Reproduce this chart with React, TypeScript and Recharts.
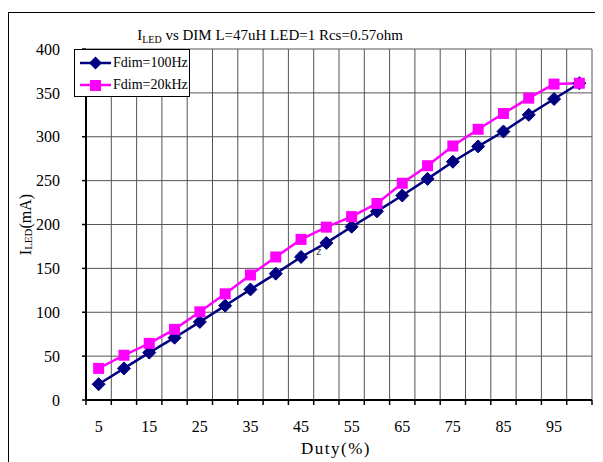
import { LineChart, Line, XAxis, YAxis, CartesianGrid } from "recharts"

const DUTY = [5, 10, 15, 20, 25, 30, 35, 40, 45, 50, 55, 60, 65, 70, 75, 80, 85, 90, 95, 100]
const FDIM_100HZ = [18, 36, 54, 71, 89, 107.5, 126, 144, 163, 179, 197.5, 215, 233, 252, 271.5, 289, 306, 325, 343, 361]
const FDIM_20KHZ = [36, 51, 64.5, 80.5, 100.5, 121, 142.5, 163, 183, 197, 209, 224, 247, 267, 289.5, 308.5, 326.5, 344, 360, 361]

const X_LABEL_TICKS = [5, 15, 25, 35, 45, 55, 65, 75, 85, 95]
const X_GRID_TICKS = [2.5, 7.5, 12.5, 17.5, 22.5, 27.5, 32.5, 37.5, 42.5, 47.5, 52.5, 57.5, 62.5, 67.5, 72.5, 77.5, 82.5, 87.5, 92.5, 97.5, 102.5]
const Y_TICKS = [0, 50, 100, 150, 200, 250, 300, 350, 400]

const NAVY = "#000080"
const MAGENTA = "#ff00ff"
const FONT = "'Liberation Serif', 'DejaVu Serif', serif"

const data = DUTY.map((d, i) => ({
  duty: d,
  f100: FDIM_100HZ[i],
  f20k: FDIM_20KHZ[i],
}))

const Diamond = ({ cx, cy }: { cx?: number; cy?: number }) => {
  if (cx == null || cy == null) return null
  const r = 6.5
  return (
    <polygon
      points={`${cx},${cy - r} ${cx + r},${cy} ${cx},${cy + r} ${cx - r},${cy}`}
      fill={NAVY}
      stroke={NAVY}
    />
  )
}

const Square = ({ cx, cy }: { cx?: number; cy?: number }) => {
  if (cx == null || cy == null) return null
  const s = 11
  return <rect x={cx - s / 2} y={cy - s / 2} width={s} height={s} fill={MAGENTA} />
}

// grid axis only carries tick marks, no text
const NoLabel = () => <g />

const LEGEND_ITEMS = [
  { name: "Fdim=100Hz", color: NAVY, square: false },
  { name: "Fdim=20kHz", color: MAGENTA, square: true },
]

const LegendBox = () => (
  <div
    style={{
      position: "absolute",
      left: 66,
      top: 41,
      width: 116,
      height: 48,
      border: "1.5px solid #000",
      boxSizing: "border-box",
      background: "#fff",
      fontFamily: FONT,
      fontSize: 14,
      color: "#000",
      paddingTop: 2,
    }}
  >
    {LEGEND_ITEMS.map((it) => (
      <div key={it.name} style={{ display: "flex", alignItems: "center", height: 22 }}>
        <svg width={38} height={16} style={{ flex: "none" }}>
          <line x1={5} y1={8} x2={36} y2={8} stroke={it.color} strokeWidth={2.5} />
          {it.square ? (
            <rect x={15} y={3} width={11} height={11} fill={it.color} />
          ) : (
            <polygon points="20.5,1.5 27,8 20.5,14.5 14,8" fill={it.color} />
          )}
        </svg>
        <span style={{ lineHeight: "16px", whiteSpace: "nowrap" }}>{it.name}</span>
      </div>
    ))}
  </div>
)

export default function App() {
  return (
    <div style={{ position: "relative", width: 595, height: 454, overflow: "hidden", background: "#fff" }}>
      <div
        style={{
          position: "absolute",
          left: 0,
          top: 4,
          width: 700,
          height: 600,
          border: "1px solid #000",
          boxSizing: "border-box",
        }}
      />
      <div
        style={{
          position: "absolute",
          left: 0,
          top: 19,
          width: 524,
          textAlign: "center",
          fontFamily: FONT,
          fontSize: 15,
          color: "#000",
          whiteSpace: "pre",
        }}
      >
        I<span style={{ fontSize: 10, verticalAlign: -3 }}>LED</span> vs DIM L=47uH LED=1 Rcs=0.57ohm
      </div>
      <LineChart
        width={595}
        height={454}
        data={data}
        margin={{ top: 41, right: 11, left: 0, bottom: 0 }}
        style={{ position: "absolute", left: 0, top: 0 }}
      >
        <CartesianGrid xAxisId="grid" stroke="#555" strokeWidth={1} />
        <XAxis
          xAxisId="grid"
          dataKey="duty"
          type="number"
          domain={[2.5, 102.5]}
          ticks={X_GRID_TICKS}
          height={5}
          axisLine={{ stroke: "#000", strokeWidth: 2 }}
          tickLine={{ stroke: "#000", strokeWidth: 1.5 }}
          tickSize={5}
          tick={<NoLabel />}
          interval={0}
        />
        <XAxis
          xAxisId="labels"
          dataKey="duty"
          type="number"
          domain={[2.5, 102.5]}
          ticks={X_LABEL_TICKS}
          height={57}
          axisLine={false}
          tickLine={false}
          tickSize={0}
          tickMargin={16}
          interval={0}
          tick={{ fill: "#000", fontSize: 16, fontFamily: FONT }}
          label={{
            content: ({ viewBox }: any) => (
              <text
                x={viewBox.x + viewBox.width / 2 - 3}
                y={440}
                textAnchor="middle"
                dominantBaseline="central"
                fontFamily={FONT}
                fontSize={17}
                letterSpacing={1.5}
                fill="#000"
              >
                Duty(%)
              </text>
            ),
          }}
        />
        <YAxis
          domain={[0, 400]}
          ticks={Y_TICKS}
          width={78}
          interval={0}
          axisLine={{ stroke: "#000", strokeWidth: 2 }}
          tickLine={{ stroke: "#000", strokeWidth: 1.5 }}
          tickSize={4}
          tickMargin={22}
          tick={{ fill: "#000", fontSize: 16, fontFamily: FONT }}
          label={{
            content: ({ viewBox }: any) => {
              const x = 17
              const y = viewBox.y + viewBox.height / 2
              return (
                <text
                  x={x}
                  y={y}
                  transform={`rotate(-90, ${x}, ${y})`}
                  textAnchor="middle"
                  dominantBaseline="central"
                  fontFamily={FONT}
                  fontSize={16}
                  fill="#000"
                >
                  I<tspan fontSize={11} dy={3}>LED</tspan>
                  <tspan dy={-3}>(mA)</tspan>
                </text>
              )
            },
          }}
        />
        <Line
          xAxisId="labels"
          dataKey="f100"
          name="Fdim=100Hz"
          stroke={NAVY}
          strokeWidth={2.5}
          dot={<Diamond />}
          isAnimationActive={false}
        />
        <Line
          xAxisId="labels"
          dataKey="f20k"
          name="Fdim=20kHz"
          stroke={MAGENTA}
          strokeWidth={2.5}
          dot={<Square />}
          isAnimationActive={false}
        />
      </LineChart>
      <LegendBox />
      <div
        style={{
          position: "absolute",
          left: 308,
          top: 238,
          fontFamily: "'DejaVu Sans', sans-serif",
          fontSize: 10,
          color: "#444",
        }}
      >
        z
      </div>
    </div>
  )
}
